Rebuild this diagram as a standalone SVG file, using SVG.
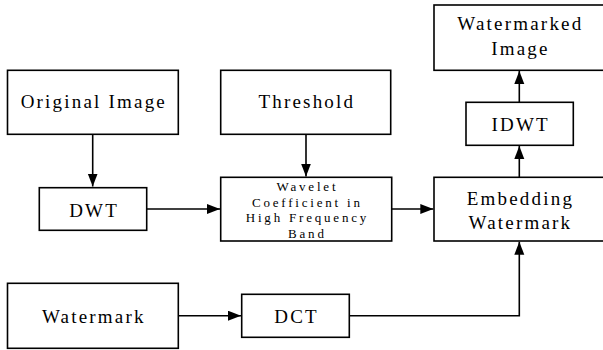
<svg xmlns="http://www.w3.org/2000/svg" width="603" height="350" viewBox="0 0 603 350" font-family="'Liberation Serif', 'DejaVu Serif', 'Times New Roman', serif">
<style>
rect{fill:#fff;stroke:#000;stroke-width:1.6}
text{font-size:19px;letter-spacing:2.2px;text-anchor:middle;fill:#000}
text.s{font-size:13px;letter-spacing:2.8px}
.c path{fill:none;stroke:#000;stroke-width:1.6}
</style>
<defs>
<marker id="a" markerUnits="userSpaceOnUse" markerWidth="14" markerHeight="12" refX="13" refY="5" orient="auto">
<path d="M0,0 L13,5 L0,10 z" fill="#000"/>
</marker>
</defs>
<g class="c">
<path d="M92.7,134 V186.5" marker-end="url(#a)"/>
<path d="M306,134 V176.5" marker-end="url(#a)"/>
<path d="M146.7,209 H220" marker-end="url(#a)"/>
<path d="M391.7,209 H433.3" marker-end="url(#a)"/>
<path d="M178.3,315.7 H241" marker-end="url(#a)"/>
<path d="M349.3,315.7 H519.3 V241.8" marker-end="url(#a)"/>
<path d="M519.3,177.3 V146" marker-end="url(#a)"/>
<path d="M519.3,102.3 V71" marker-end="url(#a)"/>
</g>
<g id="original"><rect x="7.5" y="70.3" width="170.8" height="64"/><text x="93.8" y="107.5">Original Image</text></g>
<g id="threshold"><rect x="220.7" y="70.3" width="170" height="64"/><text x="306.8" y="107.5">Threshold</text></g>
<g id="watermarked"><rect x="434" y="5" width="172" height="65.3"/><text x="520.4" y="29.5">Watermarked</text><text x="520.4" y="54.5">Image</text></g>
<g id="idwt"><rect x="466" y="102.3" width="107.3" height="43"/><text x="520.7" y="131">IDWT</text></g>
<g id="dwt"><rect x="39.3" y="187.7" width="107.4" height="42.6"/><text x="94.1" y="216.5">DWT</text></g>
<g id="wavelet"><rect x="220.7" y="177.3" width="171" height="63.7"/>
<text class="s" x="307.4" y="191">Wavelet</text><text class="s" x="307.4" y="206.7">Coefficient in</text><text class="s" x="307.4" y="222.4">High Frequency</text><text class="s" x="307.4" y="238">Band</text></g>
<g id="embedding"><rect x="434" y="177.3" width="172" height="63.7"/><text x="520.4" y="204.5">Embedding</text><text x="520.4" y="228.5">Watermark</text></g>
<g id="watermark"><rect x="7.5" y="283.3" width="170.8" height="65"/><text x="93.8" y="322.5">Watermark</text></g>
<g id="dct"><rect x="241.7" y="294.3" width="107.6" height="43"/><text x="296.6" y="322.5">DCT</text></g>
</svg>
